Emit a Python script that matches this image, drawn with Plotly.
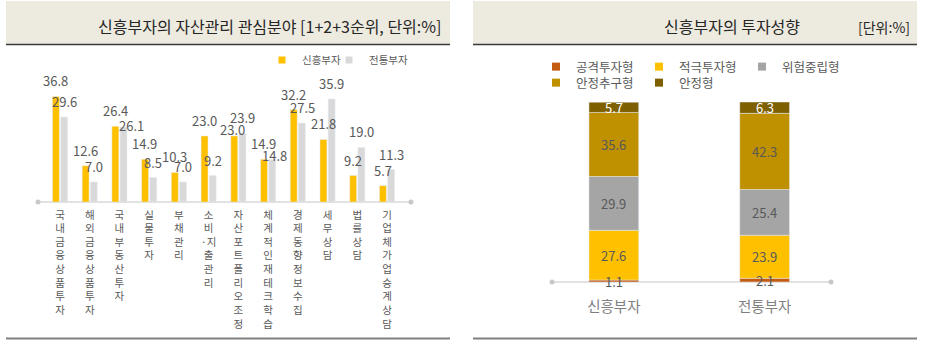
import plotly.graph_objects as go

W, H = 936, 352
def fx(p): return p / W
def fy(p): return 1 - p / H

FONT = "Noto Sans CJK KR"

# ---------------- data ----------------
interest_categories = ["국내 금융상품 투자", "해외 금융상품 투자", "국내 부동산 투자", "실물투자", "부채 관리",
                       "소비·지출 관리", "자산포트폴리오 조정", "체계적인 재테크학습", "경제동향 정보 수집",
                       "세무 상담", "법률 상담", "기업체 가업승계 상담"]
new_rich = [36.8, 12.6, 26.4, 14.9, 10.3, 23.0, 23.0, 14.9, 32.2, 21.8, 9.2, 5.7]
old_rich = [29.6, 7.0, 26.1, 8.5, 7.0, 9.2, 23.9, 14.8, 27.5, 35.9, 19.0, 11.3]
interest_series = ["신흥부자", "전통부자"]

profile_categories = ["신흥부자", "전통부자"]
profile_names = ["공격투자형", "적극투자형", "위험중립형", "안정추구형", "안정형"]
aggressive = [1.1, 2.1]
active = [27.6, 23.9]
neutral = [29.9, 25.4]
stable_seek = [35.6, 42.3]
stable = [5.7, 6.3]

# ---------------- styles ----------------
C_NEW, C_OLD = "#FFC000", "#D9D9D9"
profile_colors = ["#C55A11", "#FFC000", "#A5A5A5", "#BF9000", "#7F6000"]
profile_text_colors = ["#595959", "#595959", "#595959", "#595959", "#FFFFFF"]
LABEL = "#595959"
# manual label nudges (series index, category index) -> (dx px, dy px downward)
label_nudges = {(1, 2): (7.5, 13.5), (0, 6): (-1.5, 9.5), (1, 7): (2, 11.5)}
# legend anchor positions (px) per series
left_legend_pos = [(262, 60), (329, 60)]
right_legend_pos = [(536, 67), (639, 67), (742, 67), (536, 83), (639, 83)]

def vertical(s):
    s = s.replace("·", "\u0000")
    out, i = [], 0
    chars = [c for c in s if c != " "]
    while i < len(chars):
        if chars[i] == "\u0000" and i + 1 < len(chars):
            out.append("·" + chars[i + 1]); i += 2
        else:
            out.append(chars[i]); i += 1
    return "<br>".join(out)

fig = go.Figure()
legends = {}
legend_idx = 1
def new_legend(px, py, size):
    global legend_idx
    key = "legend" if legend_idx == 1 else f"legend{legend_idx}"
    legend_idx += 1
    legends[key] = dict(orientation="h", x=fx(px), y=fy(py), xanchor="left", yanchor="middle",
                        font=dict(size=size, color=LABEL, family=FONT), bgcolor="rgba(0,0,0,0)")
    return key

# left chart bars
for name, vals, col in zip(interest_series, [new_rich, old_rich], [C_NEW, C_OLD]):
    fig.add_trace(go.Bar(x=interest_categories, y=vals, marker_color=col, name=name,
                         showlegend=False, xaxis="x", yaxis="y"))
for name, col, (lx, ly) in zip(interest_series, [C_NEW, C_OLD], left_legend_pos):
    fig.add_trace(go.Scatter(x=[None], y=[None], mode="markers", name=name, legend=new_legend(lx, ly, 10.5),
                             marker=dict(symbol="square", size=7, color=col), xaxis="x", yaxis="y"))

# right chart stacked bars
profile_series = [aggressive, active, neutral, stable_seek, stable]
bar_w = 0.33
base = [0.0, 0.0]
annotations = []
for name, vals, col, tcol in zip(profile_names, profile_series, profile_colors, profile_text_colors):
    fig.add_trace(go.Bar(x=profile_categories, y=vals, base=list(base), marker_color=col, name=name,
                         width=bar_w, offset=-bar_w / 2, offsetgroup="p", showlegend=False,
                         xaxis="x2", yaxis="y2"))
    for c, v, b in zip(profile_categories, vals, base):
        annotations.append(dict(x=c, y=b + v / 2, xref="x2", yref="y2", text=f"{v:.1f}", showarrow=False,
                                font=dict(size=13, color=tcol, family=FONT), xanchor="center", yanchor="middle"))
    base = [b + v for b, v in zip(base, vals)]
for name, col, (lx, ly) in zip(profile_names, profile_colors, right_legend_pos):
    fig.add_trace(go.Scatter(x=[None], y=[None], mode="markers", name=name, legend=new_legend(lx, ly, 12.5),
                             marker=dict(symbol="square", size=8, color=col), xaxis="x2", yaxis="y2"))

# left value labels
slot_shift = 4.2
for si, vals in enumerate([new_rich, old_rich]):
    for ci, (c, v) in enumerate(zip(interest_categories, vals)):
        dx, dy = label_nudges.get((si, ci), (0, 0))
        annotations.append(dict(x=c, y=v, xref="x", yref="y", text=f"{v:.1f}", showarrow=False,
                                xshift=(-slot_shift if si == 0 else slot_shift) + dx, yshift=4 - dy,
                                yanchor="bottom", font=dict(size=13, color=LABEL, family=FONT)))

# titles
annotations.append(dict(x=fx(443), y=fy(26), xref="paper", yref="paper", xanchor="right", yanchor="middle",
                        text="신흥부자의 자산관리 관심분야 [1+2+3순위, 단위:%]", showarrow=False,
                        font=dict(size=16, color="#262626", family=FONT)))
annotations.append(dict(x=fx(732), y=fy(26), xref="paper", yref="paper", xanchor="center", yanchor="middle",
                        text="신흥부자의 투자성향", showarrow=False,
                        font=dict(size=16, color="#262626", family=FONT)))
annotations.append(dict(x=fx(912), y=fy(27), xref="paper", yref="paper", xanchor="right", yanchor="middle",
                        text="[단위:%]", showarrow=False,
                        font=dict(size=14, color="#262626", family=FONT)))

shapes = []
for x0, x1 in [(6, 450), (473, 917)]:
    shapes.append(dict(type="rect", xref="paper", yref="paper", x0=fx(x0), x1=fx(x1), y0=fy(44), y1=fy(1),
                       fillcolor="#EDEAE0", line_width=0, layer="below"))
    shapes.append(dict(type="line", xref="paper", yref="paper", x0=fx(x0), x1=fx(x1), y0=fy(44.5), y1=fy(44.5),
                       line=dict(color="#3A3A3A", width=1.5)))
    shapes.append(dict(type="line", xref="paper", yref="paper", x0=fx(x0), x1=fx(x1), y0=fy(338.5), y1=fy(338.5),
                       line=dict(color="#808080", width=2)))
# baselines with dot ends
for (x0, x1, yb) in [(38, 411, 202), (552, 831, 282)]:
    shapes.append(dict(type="line", xref="paper", yref="paper", x0=fx(x0), x1=fx(x1), y0=fy(yb), y1=fy(yb),
                       line=dict(color="#D9D9D9", width=1.5), layer="below"))
    for xc in (x0, x1):
        shapes.append(dict(type="circle", xref="paper", yref="paper", x0=fx(xc - 2.5), x1=fx(xc + 2.5),
                           y0=fy(yb + 2.5), y1=fy(yb - 2.5), fillcolor="#C8C8C8", line_width=0))

fig.update_layout(
    width=W, height=H, margin=dict(l=0, r=0, t=0, b=0),
    paper_bgcolor="white", plot_bgcolor="rgba(0,0,0,0)",
    font=dict(family=FONT, color=LABEL),
    barmode="group", bargap=0.45, bargroupgap=0.15,
    xaxis=dict(domain=[fx(41.3), fx(405.7)], type="category", showgrid=False, showline=False, zeroline=False,
               ticks="", tickvals=interest_categories, ticktext=[vertical(c) for c in interest_categories],
               tickfont=dict(size=10.5, color=LABEL, family=FONT), ticklabelstandoff=5, anchor="y"),
    yaxis=dict(domain=[fy(202), fy(87.2)], range=[0, 40], visible=False, anchor="x"),
    xaxis2=dict(domain=[fx(552), fx(831)], type="category", range=[-0.41, 1.44], showgrid=False, showline=False,
                zeroline=False, ticks="", tickfont=dict(size=14.5, color="#7F7F7F", family=FONT),
                ticklabelstandoff=14, anchor="y2"),
    yaxis2=dict(domain=[fy(282), fy(102)], range=[0, 100], visible=False, anchor="x2"),
    annotations=annotations, shapes=shapes,
    **legends,
)

fig.write_html("out.html")
